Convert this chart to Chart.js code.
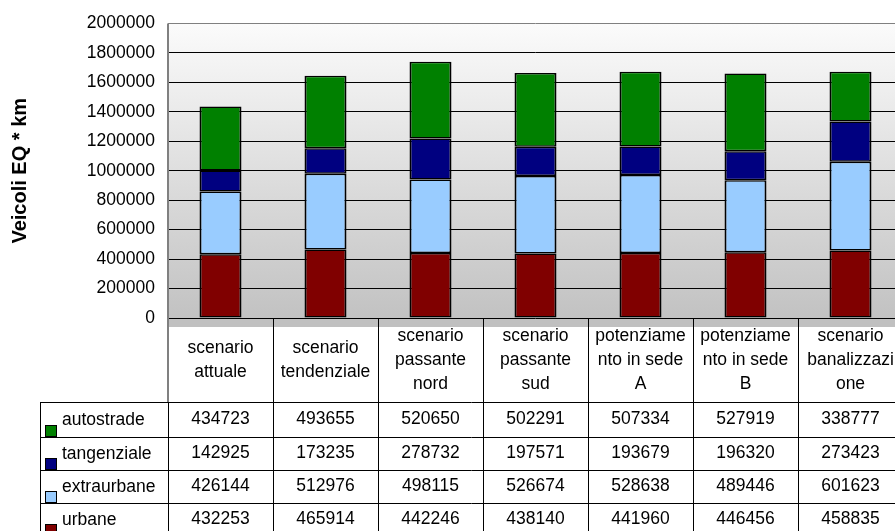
<!DOCTYPE html>
<html>
<head>
<meta charset="utf-8">
<script src="https://cdn.jsdelivr.net/npm/chart.js@4/dist/chart.umd.min.js"></script>
<style>
html, body { margin: 0; padding: 0; background: #fff; overflow: hidden; }
#wrap { width: 910px; height: 531px; }
</style>
</head>
<body>
<div id="wrap"><canvas id="myChart"></canvas></div>
<script>
const scenari = [
    ['scenario', 'attuale'],
    ['scenario', 'tendenziale'],
    ['scenario', 'passante', 'nord'],
    ['scenario', 'passante', 'sud'],
    ['potenziame', 'nto in sede', 'A'],
    ['potenziame', 'nto in sede', 'B'],
    ['scenario', 'banalizzazi', 'one']
];
const urbane = [432253, 465914, 442246, 438140, 441960, 446456, 458835];
const extraurbane = [426144, 512976, 498115, 526674, 528638, 489446, 601623];
const tangenziale = [142925, 173235, 278732, 197571, 193679, 196320, 273423];
const autostrade = [434723, 493655, 520650, 502291, 507334, 527919, 338777];
const yMax = 2000000;
const yStep = 200000;

const font = '"Liberation Sans", Arial, sans-serif';
const fontSize = 17.5;
Chart.defaults.font.family = font;
Chart.defaults.color = '#000';

// righe della tabella, dall'alto verso il basso
const righe = [
    { nome: 'autostrade', dati: autostrade, colore: '#008000' },
    { nome: 'tangenziale', dati: tangenziale, colore: '#000080' },
    { nome: 'extraurbane', dati: extraurbane, colore: '#99ccff' },
    { nome: 'urbane', dati: urbane, colore: '#800000' }
];

const tabella = {
    id: 'tabella',
    beforeDraw(chart) {
        const { ctx, chartArea: a } = chart;
        const g = ctx.createLinearGradient(0, a.top, 0, a.bottom);
        g.addColorStop(0, '#fbfbfb');
        g.addColorStop(1, '#c2c2c2');
        ctx.save();
        ctx.fillStyle = g;
        ctx.fillRect(a.left, a.top, a.right - a.left, a.bottom - a.top);
        // pavimento
        ctx.fillStyle = '#c0c0c0';
        ctx.fillRect(a.left, a.bottom, a.right - a.left, 9);
        ctx.restore();
    },
    afterDraw(chart) {
        const { ctx, chartArea: a } = chart;
        const n = scenari.length;
        const w = (a.right - a.left) / n;
        const headBottom = 402;
        const rowTops = [402, 437, 470, 503, 536];
        const legLeft = 40;

        ctx.save();
        // bordo sinistro grigio
        ctx.strokeStyle = '#808080';
        ctx.lineWidth = 2;
        ctx.beginPath();
        ctx.moveTo(a.left, a.top);
        ctx.lineTo(a.left, headBottom);
        ctx.stroke();

        ctx.strokeStyle = '#000';
        ctx.lineWidth = 1;
        ctx.beginPath();
        for (let i = 1; i <= n; i++) {
            const x = Math.round(a.left + i * w) + 0.5;
            ctx.moveTo(x, a.bottom);
            ctx.lineTo(x, 531);
        }
        ctx.moveTo(a.left + 0.5, headBottom);
        ctx.lineTo(a.left + 0.5, 531);
        ctx.moveTo(legLeft + 0.5, headBottom);
        ctx.lineTo(legLeft + 0.5, 531);
        for (let r = 0; r < 4; r++) {
            ctx.moveTo(legLeft, rowTops[r] + 0.5);
            ctx.lineTo(a.right, rowTops[r] + 0.5);
        }
        ctx.stroke();

        ctx.fillStyle = '#000';
        ctx.font = fontSize + 'px ' + font;
        ctx.textAlign = 'center';
        ctx.textBaseline = 'middle';
        // intestazioni
        scenari.forEach((righeTesto, i) => {
            const cx = a.left + (i + 0.5) * w;
            const cy = 360;
            righeTesto.forEach((t, k) => {
                ctx.fillText(t, cx, cy + (k - (righeTesto.length - 1) / 2) * 24);
            });
        });
        // valori
        righe.forEach((r, j) => {
            const cy = (rowTops[j] + rowTops[j + 1]) / 2;
            r.dati.forEach((v, i) => {
                ctx.fillText(String(v), a.left + (i + 0.5) * w, cy);
            });
            // legenda
            ctx.fillStyle = r.colore;
            ctx.fillRect(45, rowTops[j + 1] - 12, 11, 11);
            ctx.strokeRect(45.5, rowTops[j + 1] - 11.5, 11, 11);
            ctx.fillStyle = '#000';
            ctx.textAlign = 'left';
            ctx.fillText(r.nome, 62, cy + 1);
            ctx.textAlign = 'center';
        });
        ctx.restore();
    }
};

const ctx = document.getElementById('myChart');

const chart = new Chart(ctx, {
    type: 'bar',
    data: {
        labels: scenari,
        datasets: [...righe].reverse().map(r => ({
            label: r.nome,
            data: r.dati,
            backgroundColor: r.colore,
            borderColor: '#000',
            borderWidth: { top: 1.5, bottom: 1.5, left: 2, right: 2 },
            borderSkipped: false,
            categoryPercentage: 1,
            barPercentage: 0.4
        }))
    },
    options: {
        responsive: true,
        maintainAspectRatio: false,
        animation: false,
        layout: {
            padding: { top: 22, right: 7, bottom: 213, left: 0 }
        },
        plugins: {
            legend: { display: false },
            tooltip: { enabled: false }
        },
        scales: {
            x: {
                stacked: true,
                display: false
            },
            y: {
                stacked: true,
                min: 0,
                max: yMax,
                afterFit: (s) => { s.width = 168; },
                ticks: {
                    stepSize: yStep,
                    padding: 13,
                    font: { size: fontSize },
                    color: '#000',
                    callback: (v) => String(v)
                },
                grid: {
                    drawTicks: false,
                    color: (c) => c.tick && c.tick.value === yMax ? '#808080' : '#000',
                    lineWidth: 1
                },
                border: {
                    display: false
                },
                title: {
                    display: true,
                    text: 'Veicoli EQ * km',
                    font: { size: 20, weight: 'bold' },
                    color: '#000',
                    padding: { top: 8, bottom: 0 }
                }
            }
        }
    },
    plugins: [tabella]
});
</script>
</body>
</html>
